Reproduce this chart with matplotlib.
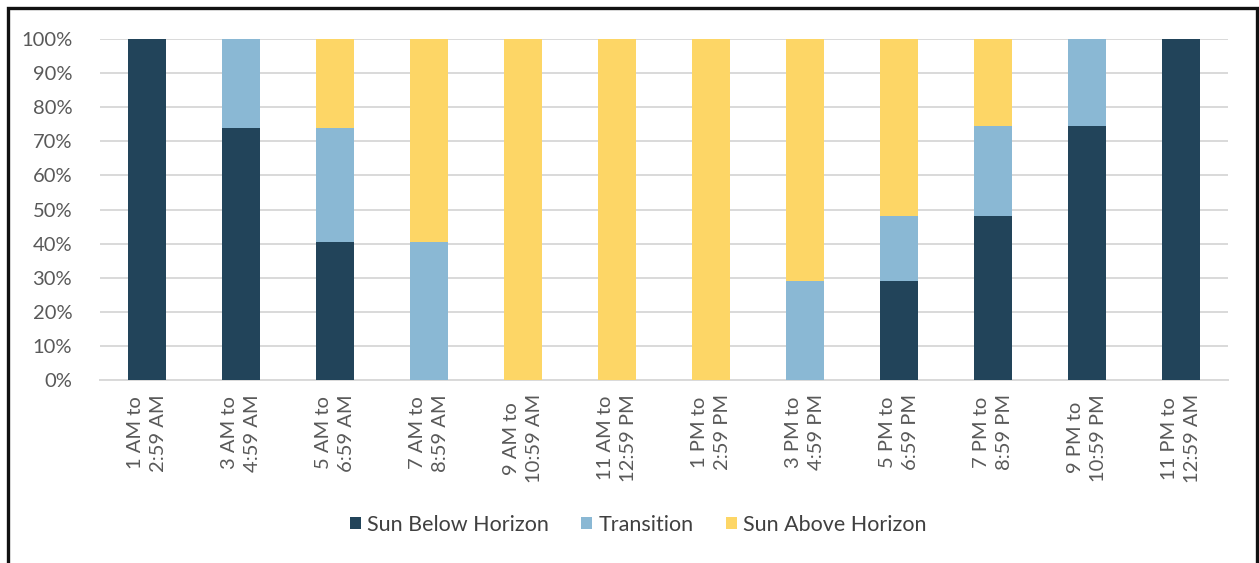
import matplotlib.pyplot as plt
import numpy as np
from matplotlib.patches import Rectangle
from matplotlib.ticker import PercentFormatter

plt.rcParams["font.family"] = ["Lato", "DejaVu Sans"]

periods = [
    "1 AM to\n2:59 AM", "3 AM to\n4:59 AM", "5 AM to\n6:59 AM", "7 AM to\n8:59 AM",
    "9 AM to\n10:59 AM", "11 AM to\n12:59 PM", "1 PM to\n2:59 PM", "3 PM to\n4:59 PM",
    "5 PM to\n6:59 PM", "7 PM to\n8:59 PM", "9 PM to\n10:59 PM", "11 PM to\n12:59 AM",
]
below = [100, 74, 40.5, 0, 0, 0, 0, 0, 29, 48, 74.5, 100]
transition = [0, 26, 33.5, 40.5, 0, 0, 0, 29, 19, 26.5, 25.5, 0]
above = [0, 0, 26, 59.5, 100, 100, 100, 71, 52, 25.5, 0, 0]

series = [
    ("Sun Below Horizon", below, "#22445A"),
    ("Transition", transition, "#8AB8D4"),
    ("Sun Above Horizon", above, "#FDD666"),
]

fig = plt.figure(figsize=(12.59, 5.63), dpi=100)
ax = fig.add_axes([0.0794, 0.325, 0.896, 0.6055])

x = np.arange(len(periods))
bottom = np.zeros(len(periods))
for name, vals, color in series:
    vals = np.array(vals, dtype=float)
    ax.bar(x, vals, bottom=bottom, width=0.40, color=color, label=name, zorder=3)
    bottom += vals

ax.set_xlim(-0.5, len(periods) - 0.5)
ax.set_ylim(0, 100)
ax.set_yticks(range(0, 101, 10))
ax.yaxis.set_major_formatter(PercentFormatter(decimals=0))
ax.grid(axis="y", color="#D9D9D9", linewidth=1.4, zorder=0)
for side in ["top", "right", "left"]:
    ax.spines[side].set_visible(False)
ax.spines["bottom"].set_color("#D9D9D9")
ax.spines["bottom"].set_linewidth(1.4)
ax.tick_params(axis="both", length=0, colors="#595959")
ax.tick_params(axis="y", labelsize=14.5, pad=20)

ax.set_xticks(x)
ax.set_xticklabels(periods, rotation=90, fontsize=14.5, color="#595959",
                   ha="center", va="top", multialignment="center", linespacing=1.45)
ax.tick_params(axis="x", pad=10)

fig.legend(loc="center", bbox_to_anchor=(0.507, 0.068), ncol=3, frameon=False,
           fontsize=15.5, handlelength=0.5, handleheight=0.5, handletextpad=0.3,
           columnspacing=1.5, labelcolor="#404040")

# outer frame
fig.patches.append(Rectangle((8 / 1259, -0.05), 1249 / 1259, 1 - 8 / 563 + 0.05,
                             transform=fig.transFigure, fill=False,
                             edgecolor="#111111", linewidth=2.4))

fig.savefig("out.png", dpi=100)
